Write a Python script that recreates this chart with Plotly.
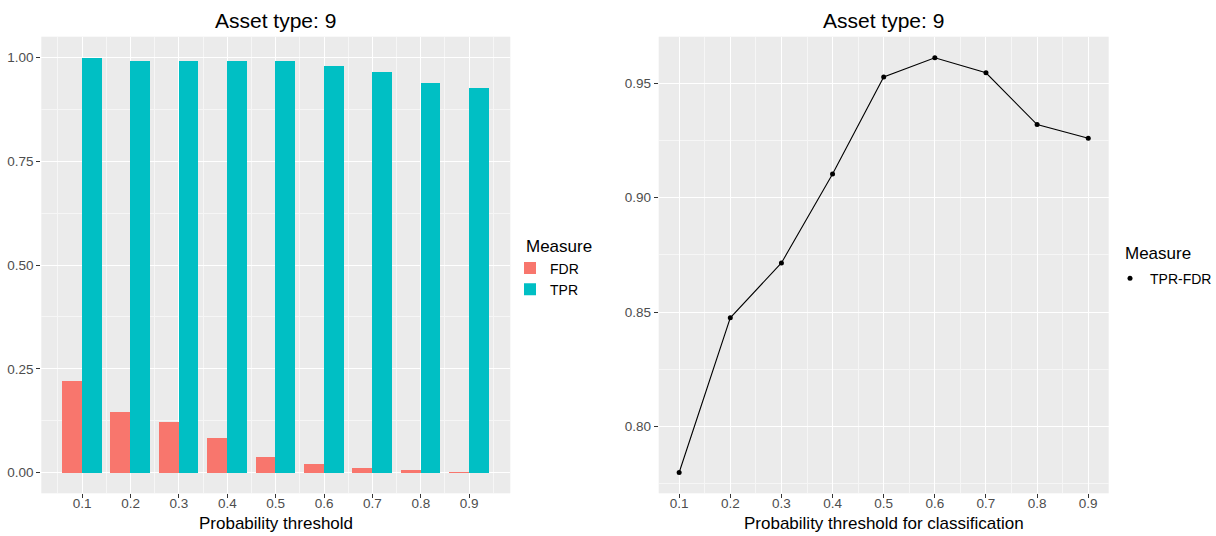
import plotly.graph_objects as go

# Classification thresholds and the resulting rates
thresholds = [0.1, 0.2, 0.3, 0.4, 0.5, 0.6, 0.7, 0.8, 0.9]
fdr = [0.221, 0.148, 0.122, 0.085, 0.0385, 0.021, 0.0114, 0.008, 0.002]
tpr = [1.000, 0.993, 0.993, 0.993, 0.991, 0.981, 0.965, 0.939, 0.927]
tpr_minus_fdr = [0.7799, 0.8475, 0.8715, 0.9104, 0.9528, 0.9612, 0.9546, 0.9320, 0.9260]

left_yticks = [0.0, 0.25, 0.5, 0.75, 1.0]
left_ytext = ["0.00", "0.25", "0.50", "0.75", "1.00"]
right_yticks = [0.80, 0.85, 0.90, 0.95]
right_ytext = ["0.80", "0.85", "0.90", "0.95"]
xtext = ["0.1", "0.2", "0.3", "0.4", "0.5", "0.6", "0.7", "0.8", "0.9"]

W, H = 1216, 536
FONT = "Liberation Sans"
PANEL_BG = "#EBEBEB"
TICK_COL = "#4D4D4D"
BAR_W = 0.041

fig = go.Figure()

fig.add_trace(go.Bar(
    x=thresholds, y=fdr, name="FDR", width=BAR_W, offset=-BAR_W,
    marker=dict(color="#F8766D", line=dict(width=0)),
    xaxis="x", yaxis="y", legend="legend",
))
fig.add_trace(go.Bar(
    x=thresholds, y=tpr, name="TPR", width=BAR_W, offset=0,
    marker=dict(color="#00BFC4", line=dict(width=0)),
    xaxis="x", yaxis="y", legend="legend",
))

# Connecting line (no legend entry) plus the points shown in the legend
fig.add_trace(go.Scatter(
    x=thresholds, y=tpr_minus_fdr, mode="lines",
    line=dict(color="black", width=1.1), showlegend=False,
    xaxis="x2", yaxis="y2", hoverinfo="skip",
))
fig.add_trace(go.Scatter(
    x=thresholds, y=tpr_minus_fdr, mode="markers", name="TPR-FDR",
    marker=dict(color="black", size=5),
    xaxis="x2", yaxis="y2", legend="legend2",
))

# Panel geometry in pixels
LEFT_X = (41.3, 510.3)
RIGHT_X = (658.7, 1108.7)
PANEL_TOP, PANEL_BOTTOM = 36.7, 493.3

Y_DOM = [1 - PANEL_BOTTOM / H, 1 - PANEL_TOP / H]
LEFT_DOM = [LEFT_X[0] / W, LEFT_X[1] / W]
RIGHT_DOM = [RIGHT_X[0] / W, RIGHT_X[1] / W]


def axis_common():
    return dict(
        showgrid=True, gridcolor="white", gridwidth=1.1,
        zeroline=False, showline=False, automargin=False,
        ticks="outside", ticklen=4, tickwidth=1, tickcolor="#333333",
        tickfont=dict(family=FONT, size=13.5, color=TICK_COL),
    )


minor_x_left = [0.05, 0.15, 0.25, 0.35, 0.45, 0.55, 0.65, 0.75, 0.85, 0.95]
minor_x_right = [0.15, 0.25, 0.35, 0.45, 0.55, 0.65, 0.75, 0.85]
minor_y_left = [0.125, 0.375, 0.625, 0.875]
minor_y_right = [0.775, 0.825, 0.875, 0.925]
MINOR = dict(showgrid=True, gridcolor="#F6F6F6", gridwidth=0.6, ticks="")


def text_note(text, x_px, y_px, size, xanchor="center"):
    return dict(text=text, x=x_px / W, y=1 - y_px / H,
                xref="paper", yref="paper", xanchor=xanchor, yanchor="middle",
                showarrow=False, font=dict(family=FONT, size=size, color="black"))


fig.update_layout(
    width=W, height=H,
    margin=dict(l=0, r=0, t=0, b=0, autoexpand=False),
    paper_bgcolor="white",
    plot_bgcolor=PANEL_BG,
    barmode="overlay",
    bargap=0,
    font=dict(family=FONT, color="black"),
    xaxis=dict(
        **axis_common(), domain=LEFT_DOM, anchor="y",
        range=[0.0155, 0.985], tickvals=thresholds, ticktext=xtext,
        minor=dict(tickvals=minor_x_left, **MINOR), ticklabelstandoff=-7,
    ),
    yaxis=dict(
        **axis_common(), domain=Y_DOM, anchor="x",
        range=[-0.0496, 1.0496], tickvals=left_yticks, ticktext=left_ytext,
        minor=dict(tickvals=minor_y_left, **MINOR),
    ),
    xaxis2=dict(
        **axis_common(), domain=RIGHT_DOM, anchor="y2",
        range=[0.06, 0.94], tickvals=thresholds, ticktext=xtext,
        minor=dict(tickvals=minor_x_right, **MINOR), ticklabelstandoff=-7,
    ),
    yaxis2=dict(
        **axis_common(), domain=Y_DOM, anchor="x2",
        range=[0.7708, 0.9704], tickvals=right_yticks, ticktext=right_ytext,
        minor=dict(tickvals=minor_y_right, **MINOR),
    ),
    legend=dict(
        x=510 / W, y=1 - 279 / H, xanchor="left", yanchor="middle",
        font=dict(family=FONT, size=14, color="black"),
        bgcolor="rgba(0,0,0,0)", tracegroupgap=0, itemwidth=30,
    ),
    legend2=dict(
        x=1110 / W, y=1 - 278.7 / H, xanchor="left", yanchor="middle",
        font=dict(family=FONT, size=14, color="black"),
        bgcolor="rgba(0,0,0,0)", itemwidth=30,
    ),
    annotations=[
        text_note("Asset type: 9", sum(LEFT_X) / 2, 20, 21),
        text_note("Asset type: 9", sum(RIGHT_X) / 2, 20, 21),
        text_note("Probability threshold", sum(LEFT_X) / 2, 523, 17),
        text_note("Probability threshold for classification", sum(RIGHT_X) / 2, 523, 17),
        text_note("Measure", 524, 246.5, 17, xanchor="left"),
        text_note("Measure", 1123, 253.3, 17, xanchor="left"),
    ],
    showlegend=True,
)

fig.write_html("out.html")
